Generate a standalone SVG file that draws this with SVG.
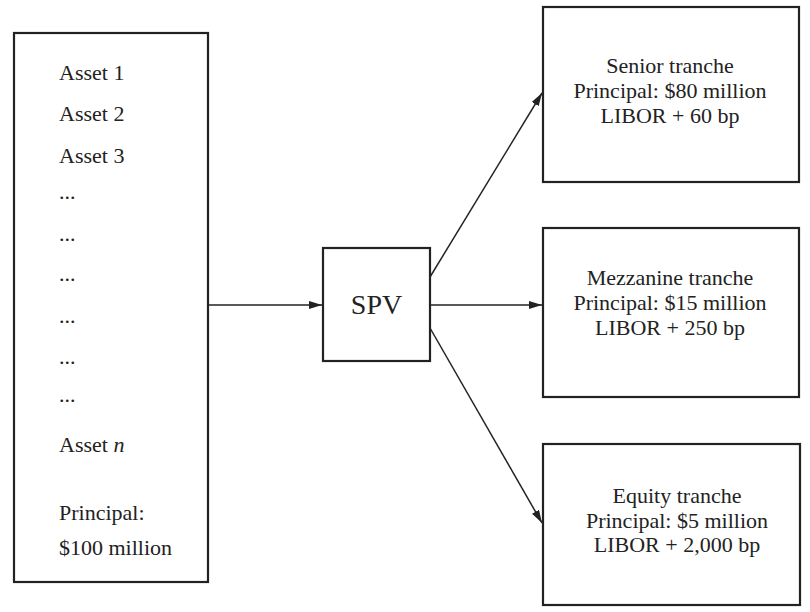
<svg xmlns="http://www.w3.org/2000/svg" width="810" height="612" viewBox="0 0 810 612">
<style>
.box{fill:#fff;stroke:#222;stroke-width:2.2}
.t{font-family:"Liberation Serif","Times New Roman",serif;font-size:22px;fill:#222}
.c{text-anchor:middle}
.conn{stroke:#222;stroke-width:1.5;fill:none}
</style>
<defs>
<marker id="ah" viewBox="0 0 13 8" refX="13" refY="4" markerWidth="13" markerHeight="8" markerUnits="userSpaceOnUse" orient="auto">
<path d="M0,0 L13,4 L0,8 Z" fill="#222"/>
</marker>
</defs>
<rect width="810" height="612" fill="#fff"/>
<g id="assets">
<rect class="box" x="14" y="33" width="194" height="549"/>
<text class="t" x="59" y="80">Asset 1</text>
<text class="t" x="59" y="121">Asset 2</text>
<text class="t" x="59" y="163">Asset 3</text>
<text class="t" x="59" y="199">...</text>
<text class="t" x="59" y="241">...</text>
<text class="t" x="59" y="281">...</text>
<text class="t" x="59" y="323">...</text>
<text class="t" x="59" y="364">...</text>
<text class="t" x="59" y="402">...</text>
<text class="t" x="59" y="452">Asset <tspan font-style="italic">n</tspan></text>
<text class="t" x="59" y="520">Principal:</text>
<text class="t" x="59" y="555">$100 million</text>
</g>
<g id="spv">
<rect class="box" x="323" y="248" width="107" height="113"/>
<text class="t c" x="376.5" y="314" style="font-size:28px">SPV</text>
</g>
<g id="senior">
<rect class="box" x="543" y="7" width="256" height="175"/>
<text class="t c" x="670" y="73">Senior tranche</text>
<text class="t c" x="670" y="98">Principal: $80 million</text>
<text class="t c" x="670" y="123">LIBOR + 60 bp</text>
</g>
<g id="mezzanine">
<rect class="box" x="543" y="228" width="256" height="169"/>
<text class="t c" x="670" y="285">Mezzanine tranche</text>
<text class="t c" x="670" y="310">Principal: $15 million</text>
<text class="t c" x="670" y="335">LIBOR + 250 bp</text>
</g>
<g id="equity">
<rect class="box" x="543" y="444" width="257" height="161"/>
<text class="t c" x="677" y="503">Equity tranche</text>
<text class="t c" x="677" y="528">Principal: $5 million</text>
<text class="t c" x="677" y="552">LIBOR + 2,000 bp</text>
</g>
<g id="connectors">
<line class="conn" x1="208" y1="305" x2="322" y2="305" marker-end="url(#ah)"/>
<line class="conn" x1="430" y1="277" x2="542" y2="93" marker-end="url(#ah)"/>
<line class="conn" x1="430" y1="305" x2="542" y2="305" marker-end="url(#ah)"/>
<line class="conn" x1="430" y1="328" x2="542" y2="523" marker-end="url(#ah)"/>
</g>
</svg>
